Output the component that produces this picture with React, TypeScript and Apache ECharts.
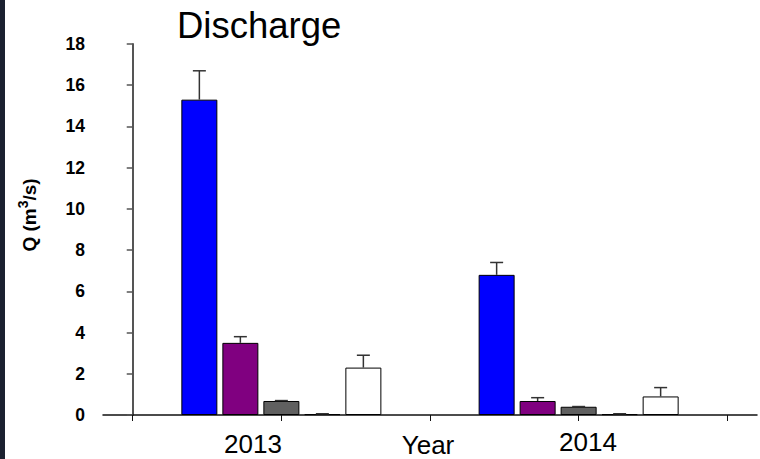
import React, { useEffect, useRef } from "react";
import * as echarts from "echarts";

const years = ["2013", "2014"];
const yearPositions = [1, 3];
const classNames = ["Class 1", "Class 2", "Class 3", "Class 4", "Class 5"];
const classColors = ["#0000ff", "#800080", "#606060", "#000000", "#ffffff"];
// mean discharge per class, [2013, 2014]
const class1Values = [15.3, 6.8];
const class2Values = [3.5, 0.68];
const class3Values = [0.68, 0.4];
const class4Values = [0.04, 0.04];
const class5Values = [2.3, 0.9];
// upper error (SE) per class, [2013, 2014]
const class1Errors = [1.4, 0.6];
const class2Errors = [0.3, 0.16];
const class3Errors = [0.02, 0.01];
const class4Errors = [0.02, 0.02];
const class5Errors = [0.6, 0.43];
const yTicks = [0, 2, 4, 6, 8, 10, 12, 14, 16, 18];
const xTickValues = [0, 1, 2, 3, 4];

const allValues = [class1Values, class2Values, class3Values, class4Values, class5Values];
const allErrors = [class1Errors, class2Errors, class3Errors, class4Errors, class5Errors];

const BAR_W = 36;
const BAR_GAP = 5;
const FONT = "'Liberation Sans', Arial, sans-serif";

export default function App() {
  const ref = useRef<HTMLDivElement>(null);
  useEffect(() => {
    if (!ref.current) return;
    const chart = echarts.init(ref.current, null, { renderer: "svg" });

    const barSeries = classNames.map((name, ci) => ({
      name,
      type: "bar",
      barWidth: BAR_W,
      barGap: ((BAR_GAP / BAR_W) * 100).toFixed(1) + "%",
      data: yearPositions.map((x, yi) => [x, allValues[ci][yi]]),
      itemStyle: { color: classColors[ci], borderColor: "#000", borderWidth: 1 },
      z: 2,
    }));

    const errData: number[][] = [];
    classNames.forEach((_, ci) => {
      yearPositions.forEach((x, yi) => {
        errData.push([x, allValues[ci][yi], allErrors[ci][yi], ci]);
      });
    });

    const errorSeries = {
      type: "custom",
      name: "error",
      z: 3,
      data: errData,
      renderItem: (params: any, api: any) => {
        const x = api.value(0);
        const v = api.value(1);
        const e = api.value(2);
        const ci = api.value(3);
        const off = (ci - (classNames.length - 1) / 2) * (BAR_W + BAR_GAP);
        const base = api.coord([x, v]);
        const top = api.coord([x, v + e]);
        const cx = base[0] + off;
        const style = { stroke: "#333", lineWidth: 1.5 };
        return {
          type: "group",
          children: [
            { type: "line", shape: { x1: cx, y1: base[1], x2: cx, y2: top[1] }, style },
            { type: "line", shape: { x1: cx - 6.5, y1: top[1], x2: cx + 6.5, y2: top[1] }, style },
          ],
        };
      },
    };

    chart.setOption({
      animation: false,
      backgroundColor: "#ffffff",
      grid: { left: 103, right: 3, top: 44, bottom: 44, containLabel: false },
      xAxis: {
        type: "value",
        min: -0.2,
        max: 4.2,
        axisLine: { show: true, onZero: false, lineStyle: { color: "#111", width: 1.5 } },
        axisTick: { show: true, customValues: xTickValues, length: 6, lineStyle: { color: "#111", width: 1 } },
        axisLabel: { show: false },
        splitLine: { show: false },
      },
      yAxis: {
        type: "value",
        min: yTicks[0],
        max: yTicks[yTicks.length - 1],
        interval: 2,
        axisLine: { show: true, lineStyle: { color: "#555", width: 2 } },
        axisTick: { show: true, length: 6, lineStyle: { color: "#555", width: 1.5 } },
        axisLabel: { margin: 18, color: "#000", fontWeight: "bold", fontSize: 17.5, fontFamily: FONT },
        splitLine: { show: false },
      },
      graphic: [
        { type: "rect", shape: { x: 0, y: 0, width: 5, height: 459 }, style: { fill: "#1b2130" }, silent: true },
        {
          type: "text", x: 177, y: 25,
          style: { text: "Discharge", fontSize: 36.5, fontFamily: FONT, fill: "#000", align: "left", verticalAlign: "middle" },
        },
        {
          type: "text", x: 29, y: 215, rotation: Math.PI / 2,
          style: {
            text: "{a|Q (m}{b|3}{a|/s)}",
            align: "center", verticalAlign: "middle",
            rich: {
              a: { fontSize: 19, fontWeight: "bold", fontFamily: FONT, fill: "#000", lineHeight: 26 },
              b: { fontSize: 14, fontWeight: "bold", fontFamily: FONT, fill: "#000", verticalAlign: "top", lineHeight: 26 },
            },
          },
        },
        { type: "text", x: 253, y: 444, style: { text: years[0], fontSize: 26, fontFamily: FONT, fill: "#000", align: "center", verticalAlign: "middle" } },
        { type: "text", x: 428, y: 445, style: { text: "Year", fontSize: 26, fontFamily: FONT, fill: "#000", align: "center", verticalAlign: "middle" } },
        { type: "text", x: 588, y: 442, style: { text: years[1], fontSize: 26, fontFamily: FONT, fill: "#000", align: "center", verticalAlign: "middle" } },
      ],
      series: [...barSeries, errorSeries],
    });
    return () => chart.dispose();
  }, []);
  return <div ref={ref} style={{ position: "fixed", left: 0, top: 0, width: 760, height: 459 }} />;
}
